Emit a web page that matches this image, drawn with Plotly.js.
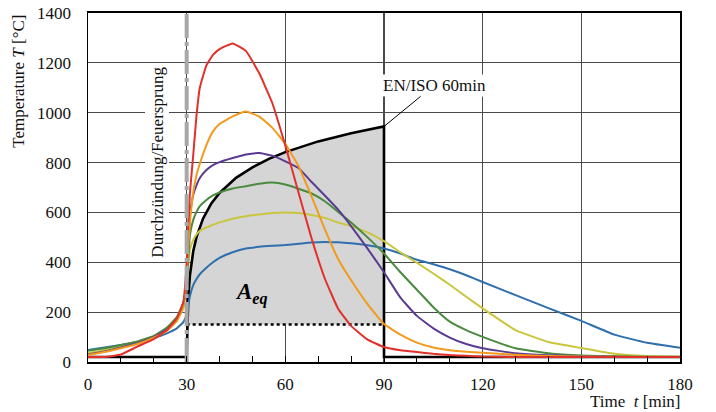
<!DOCTYPE html>
<html><head><meta charset="utf-8">
<script src="https://cdn.plot.ly/plotly-3.0.1.min.js"></script>
<style>html,body{margin:0;padding:0;background:#fff}#chart{width:716px;height:412px}</style>
</head><body><div id="chart"></div>
<script>
// ---- data ----
const time = [0,5,10,15,20,24,27,29,30,30.5,31,32,33,34,36,38,40,44,48,52,56,60,64,68,72,76,80,85,90,95,100,105,110,115,120,130,140,150,160,170,180];
const tempRed    = [20,20,30,62,92,128,175,240, 400,560,680,830,990,1100, 1190,1232,1255, 1278,1248,1160,1040,868, 680,495,335,215,145, 90,60,47,40,33, 28,25,22, 20,20,20,20,20,20];
const tempOrange = [28,40,55,72,98,125,165,225, 360,470,560,680,750,795, 870,925,955, 985,1005,985,940,875, 786,663,533,414,328, 232,152,110,78,58, 47,41,37, 29,24,22,21,20,20];
const tempPurple = [30,42,58,75,100,130,170,230, 340,480,590,670,710,738, 770,790,802, 818,832,838,828,805, 778,722,668,612,545, 455,360,258,185,135, 98,72,55, 35,27,23,21,20,20];
const tempGreen  = [45,55,68,82,105,138,180,240, 330,420,510,570,602,625, 650,668,680, 696,705,715,720,712, 695,676,645,603,560, 500,435,360,290,220, 162,128,101, 55,35,26,23,21,20];
const tempYellow = [35,47,62,78,100,128,165,215, 320,390,450,490,512,526, 540,550,560, 575,585,592,598,600, 598,590,578,560,545, 520,485,440,398,355, 310,262,215, 128,80,56,33,24,21];
const tempBlue   = [48,58,68,80,96,115,135,160, 190,230,265,308,333,352, 378,400,418, 440,455,462,466,469, 474,479,481,480,476, 468,455,435,410,392, 372,348,321, 268,216,165,110,77,57];

// EN/ISO standard fire curve section (30..90 min) and ambient level
const isoTime = [30,30.5,31,32,33,35,37.5,40,45,50,55,60,70,80,90];
const isoTemp = [20,261,349,444,502,576,636,678,739,781,815,842,885,918,945];
const ambientTemp = 20;
const timeStart = 0, timeEnd = 180;
const flashoverTime = 30;
const aeqBase = 150;
const tempMax = 1400;

// ---- build ----
const serif = '"Liberation Serif", "Times New Roman", "DejaVu Serif", serif';
const isoEnd = isoTime[isoTime.length-1];

const fillX = isoTime.concat([isoEnd, isoTime[0]]);
const fillY = isoTemp.map(v => Math.max(v, aeqBase)).concat([aeqBase, aeqBase]);

const isoX = [timeStart].concat(isoTime, [isoEnd, timeEnd]);
const isoY = [ambientTemp].concat(isoTemp, [ambientTemp, ambientTemp]);

const curves = [
  {y: tempBlue,   c: '#2f6fae'},
  {y: tempYellow, c: '#c9c63e'},
  {y: tempGreen,  c: '#4a8a3e'},
  {y: tempPurple, c: '#5b3b92'},
  {y: tempOrange, c: '#f39a1d'},
  {y: tempRed,    c: '#e2302a'}
];

const traces = [];
traces.push({x: fillX, y: fillY, mode: 'lines', fill: 'toself', fillcolor: '#d5d5d5', line: {width: 0}, hoverinfo: 'skip'});
traces.push({x: [isoTime[0], isoEnd], y: [aeqBase, aeqBase], mode: 'lines', line: {color: '#000', width: 2.5, dash: 'dot'}});
traces.push({x: isoX, y: isoY, mode: 'lines', line: {color: '#000', width: 2.6}});
curves.forEach(s => traces.push({x: time, y: s.y, mode: 'lines', line: {color: s.c, width: 2, shape: 'spline', smoothing: 0.35}}));
traces.push({x: [flashoverTime, flashoverTime], y: [0, tempMax], mode: 'lines', line: {color: '#a8a8a8', width: 4, dash: '24px,4px,4px,4px'}});

const layout = {
  width: 716, height: 412,
  margin: {l: 88, r: 36, t: 13, b: 50},
  paper_bgcolor: '#fff', plot_bgcolor: '#fff',
  showlegend: false,
  font: {family: serif, size: 17, color: '#111'},
  xaxis: {
    range: [timeStart, timeEnd], tick0: 0, dtick: 30,
    showgrid: true, gridcolor: '#4a4a4a', gridwidth: 1.2,
    showline: true, linecolor: '#000', linewidth: 2, mirror: true,
    ticks: 'inside', ticklen: 6, tickcolor: '#000', tickwidth: 1,
    minor: {dtick: 10, ticks: 'inside', ticklen: 6, tickcolor: '#000', showgrid: false},
    zeroline: false, ticklabelstandoff: 6,
    tickfont: {family: serif, size: 17, color: '#111'}
  },
  yaxis: {
    range: [0, tempMax], dtick: 200,
    showgrid: true, gridcolor: '#4a4a4a', gridwidth: 1.2,
    showline: true, linecolor: '#000', linewidth: 1.5, mirror: true,
    ticks: '', zeroline: false, ticklabelstandoff: 12,
    tickfont: {family: serif, size: 17, color: '#111'}
  },
  annotations: [
    {text: 'Temperature <i>T</i> [°C]', xref: 'paper', yref: 'paper', x: -0.118, y: 1, xanchor: 'center', yanchor: 'top', textangle: -90, showarrow: false, font: {family: serif, size: 17, color: '#111'}},
    {text: 'Time  <i>t</i> [min]', xref: 'paper', yref: 'paper', x: 1.005, y: -0.112, xanchor: 'right', yanchor: 'middle', showarrow: false, font: {family: serif, size: 17, color: '#111'}},
    {text: 'Durchzündung/Feuersprung', xref: 'x', yref: 'y', x: 21, y: 800, textangle: -90, showarrow: false, bgcolor: '#fff', borderpad: 2, font: {family: serif, size: 17, color: '#111'}},
    {text: 'EN/ISO 60min', xref: 'x', yref: 'y', x: isoEnd, y: isoTemp[isoTemp.length-1], ax: 50, ay: -41, showarrow: true, arrowhead: 0, arrowwidth: 1, arrowcolor: '#000', bgcolor: '#fff', font: {family: serif, size: 17, color: '#111'}},
    {text: '<b><i>A<sub>eq</sub></i></b>', xref: 'x', yref: 'y', x: 49.8, y: 276, showarrow: false, font: {family: serif, size: 23, color: '#000'}}
  ]
};
Plotly.newPlot('chart', traces, layout, {staticPlot: true, displayModeBar: false});
</script>
</body></html>
